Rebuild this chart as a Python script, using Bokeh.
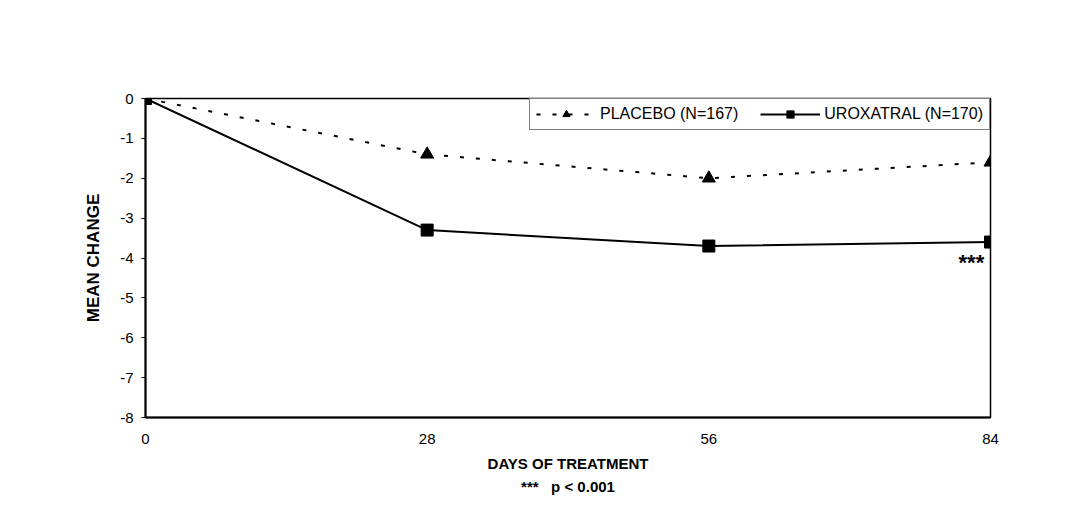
from bokeh.plotting import figure
from bokeh.models import Legend, LegendItem, Label, Range1d, FixedTicker, Title
from bokeh.embed import file_html
from bokeh.resources import INLINE

days = [0, 28, 56, 84]
placebo = [0, -1.4, -2.0, -1.6]
uroxatral = [0, -3.3, -3.7, -3.6]
y_ticks = [0, -1, -2, -3, -4, -5, -6, -7, -8]
placebo_label = "PLACEBO (N=167)"
uroxatral_label = "UROXATRAL (N=170)"
note_text = "***\u00a0\u00a0\u00a0p < 0.001"

FONT = "Liberation Sans"

p = figure(width=1065, height=495, output_backend="svg", toolbar_location=None,
           x_range=Range1d(0, 84), y_range=Range1d(-8, 0),
           min_border_left=145, min_border_right=75, min_border_top=98, min_border_bottom=77)
p.background_fill_color = "white"
p.border_fill_color = "white"
p.outline_line_color = "black"
p.outline_line_width = 1.5
p.xgrid.visible = False
p.ygrid.visible = False

p.xaxis.ticker = FixedTicker(ticks=days)
p.yaxis.ticker = FixedTicker(ticks=y_ticks)
p.yaxis.major_label_overrides = {t: str(t) for t in y_ticks}
for ax in (p.xaxis, p.yaxis):
    ax.axis_line_color = "black"
    ax.axis_line_width = 2
    ax.major_label_text_font = FONT
    ax.major_label_text_font_size = "15px"
    ax.major_label_text_color = "black"
    ax.minor_tick_line_color = None
    ax.axis_label_text_font = FONT
    ax.axis_label_text_font_style = "bold"
    ax.axis_label_text_color = "black"
p.xaxis.major_tick_line_color = None
p.xaxis.major_label_standoff = 10
p.xaxis.axis_label = "DAYS OF TREATMENT"
p.xaxis.axis_label_text_font_size = "15px"
p.xaxis.axis_label_standoff = 8
p.yaxis.major_tick_out = 4
p.yaxis.major_tick_in = 0
p.yaxis.major_tick_line_color = "black"
p.yaxis.major_label_standoff = 8
p.yaxis.axis_label = "MEAN CHANGE"
p.yaxis.axis_label_text_font_size = "17px"
p.yaxis.axis_label_standoff = 14

r_pl_line = p.line(days, placebo, line_color="black", line_width=2, line_dash="4 12")
r_pl_mark = p.scatter(days, placebo, marker="triangle", size=13, fill_color="black", line_color="black")
r_ur_line = p.line(days, uroxatral, line_color="black", line_width=2)
r_ur_mark = p.scatter(days, uroxatral, marker="square", size=12, fill_color="black", line_color="black")

legend = Legend(items=[LegendItem(label=placebo_label, renderers=[r_pl_line, r_pl_mark]),
                       LegendItem(label=uroxatral_label, renderers=[r_ur_line, r_ur_mark])],
                orientation="horizontal", location="top_right",
                border_line_color="black", border_line_width=1.5,
                label_text_font=FONT, label_text_font_size="16px", label_text_color="black",
                glyph_width=60, glyph_height=18, spacing=22, padding=6, margin=0,
                label_standoff=4, background_fill_alpha=1)
p.add_layout(legend)

p.add_layout(Label(x=82.1, y=-4.12, text="***", text_font=FONT, text_font_size="22px",
                   text_font_style="bold", text_color="black",
                   text_align="center", text_baseline="middle"))

note = Title(text=note_text, align="center", text_font=FONT, text_font_size="15px",
             text_font_style="bold", text_color="black", standoff=2)
p.add_layout(note, "below")

open("out.html", "w").write(file_html(p, INLINE))
